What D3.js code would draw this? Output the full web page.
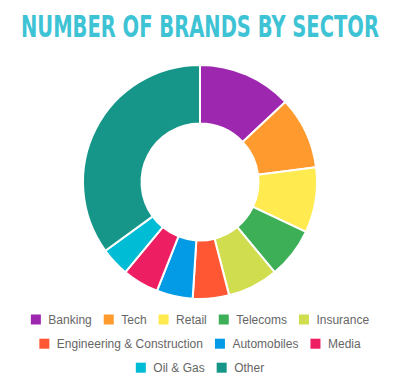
<!DOCTYPE html>
<html><head><meta charset="utf-8">
<script src="https://cdn.jsdelivr.net/npm/d3@7"></script>
<style>html,body{margin:0;padding:0;background:#fff;}svg{display:block;}</style>
</head><body>
<svg id="c" width="418" height="381"></svg>
<script>
const categories = ["Banking","Tech","Retail","Telecoms","Insurance","Engineering & Construction","Automobiles","Media","Oil & Gas","Other"];
const values = [13,10,9,7,7,5,5,5,4,35];
const colors = ["#9e27b0","#ff9a2e","#ffea4f","#3daf57","#d0dd4f","#ff5733","#039be5","#ee1e63","#00bcd4","#169688"];
const legendRows = [[0,1,2,3,4],[5,6,7],[8,9]];
const title = "NUMBER OF BRANDS BY SECTOR";

const svg = d3.select("#c");
const cx = 200, cy = 182, rOuter = 117, rInner = 58.5;

const ctx = document.createElement("canvas").getContext("2d");
const titleFont = "bold 31px 'DejaVu Sans Condensed', sans-serif";
ctx.font = titleFont;
const tW = ctx.measureText(title).width;
const sx = 358 / tW;
svg.append("text").attr("transform", `translate(21,36.5) scale(${sx},1)`)
  .style("font", titleFont).style("fill", "#3ec3d5")
  .text(title);

const pie = d3.pie().sort(null).startAngle(0).endAngle(2*Math.PI);
const arc = d3.arc().innerRadius(rInner).outerRadius(rOuter);
const g = svg.append("g").attr("transform", `translate(${cx},${cy})`);
g.selectAll("path").data(pie(values)).join("path")
  .attr("d", arc).attr("fill", (d,i) => colors[i])
  .attr("stroke", "#fff").attr("stroke-width", 2).attr("stroke-linejoin","round");

const font = "12px 'Liberation Sans', Arial, sans-serif";
ctx.font = font;
const rowY = [319.5, 343.7, 367.7];
const boxW = 10, textOff = 17.5, gap = 12, centerX = 200;
legendRows.forEach((row, ri) => {
  const widths = row.map(i => ctx.measureText(categories[i]).width);
  const total = d3.sum(widths) + row.length*textOff + gap*(row.length-1);
  let x = centerX - total/2;
  row.forEach((i, k) => {
    svg.append("rect").attr("x", x).attr("y", rowY[ri]-5).attr("width", boxW).attr("height", boxW)
      .attr("fill", colors[i]);
    svg.append("text").attr("x", x+textOff).attr("y", rowY[ri]+4.3)
      .style("font", font).style("fill", "#666").text(categories[i]);
    x += textOff + widths[k] + gap;
  });
});
</script>
</body></html>
